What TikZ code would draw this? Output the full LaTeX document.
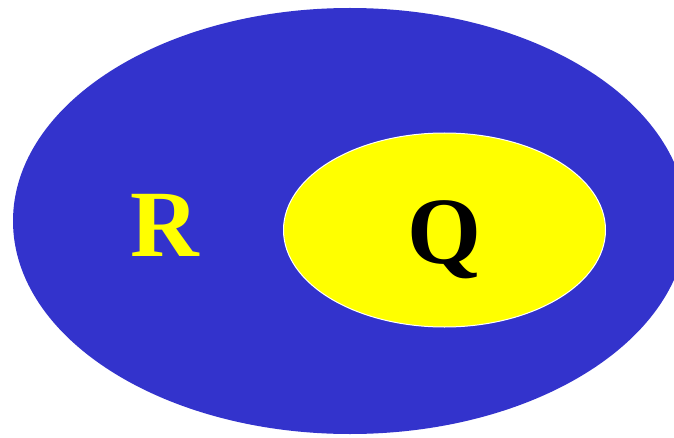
\documentclass[tikz,border=0pt]{standalone}
\usepackage{fontspec}
\setmainfont{Liberation Serif}
\usepackage{xcolor}
\usepackage{tikz}
\usetikzlibrary{positioning}
\definecolor{setblue}{HTML}{3333CC}
\definecolor{setyellow}{HTML}{FFFF00}

\begin{document}
\begin{tikzpicture}[
 x=1pt,y=1pt,
 outer/.style={fill=setblue,draw=none},
 inner/.style={fill=setyellow,draw=white,line width=1pt},
 lbl/.style={font=\fontsize{95}{95}\bfseries\selectfont,inner sep=0pt,anchor=base}
]
\useasboundingbox (0,0) rectangle (674,437);
\clip (0,0) rectangle (674,437);
% sets
\fill[outer] (350,216) ellipse [x radius=337,y radius=213];
\filldraw[inner] (444.5,207) ellipse [x radius=161,y radius=97];
% labels
\node[lbl,text=setyellow] (r) at (165,181) {R};
\node[lbl,text=black] (q) at (444.5,174) {Q};
\end{tikzpicture}
\end{document}
